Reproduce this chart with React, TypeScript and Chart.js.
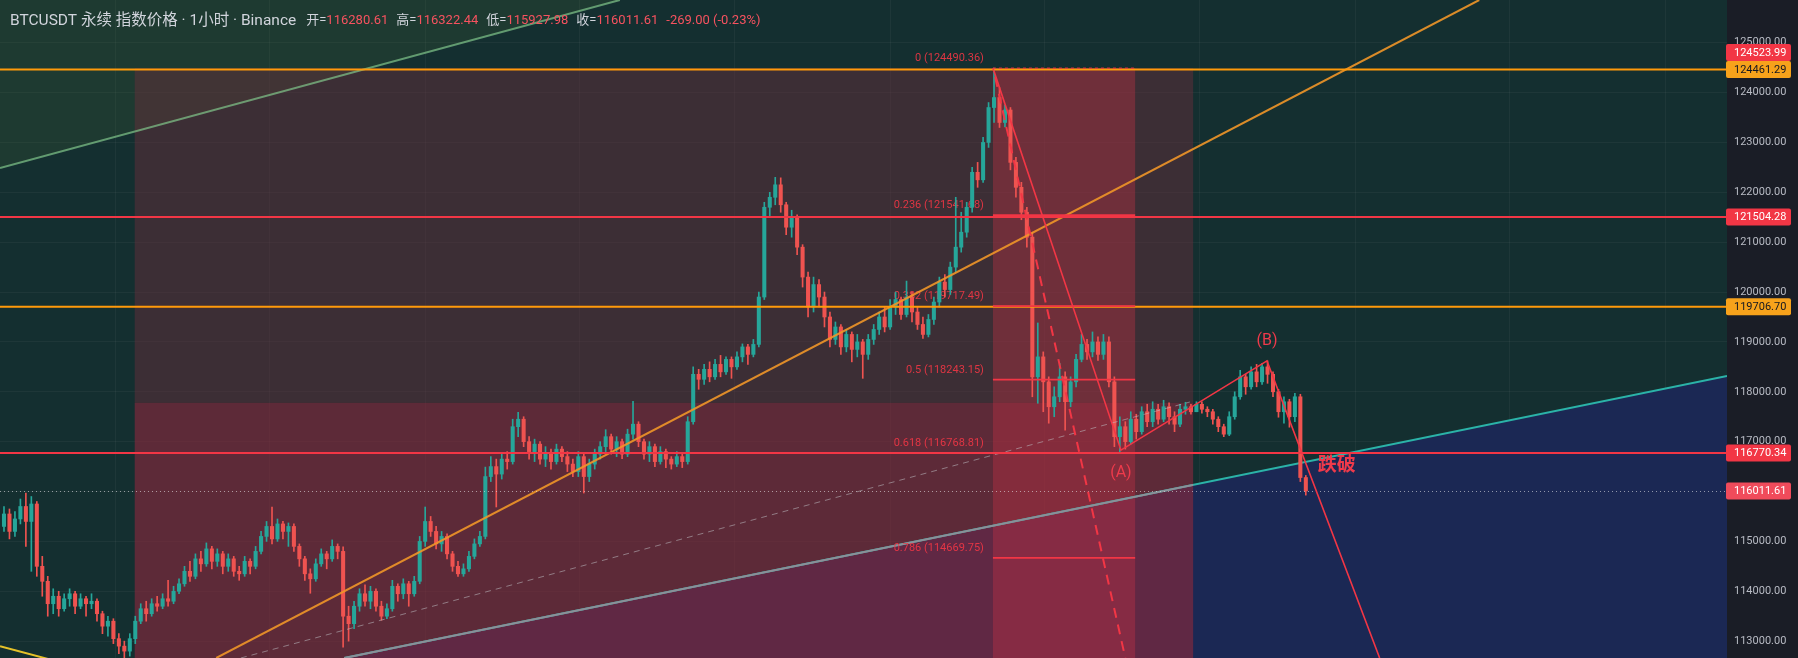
import React, { useEffect, useRef } from 'react';
import { Chart, registerables } from 'chart.js';

Chart.register(...registerables);

// ---------------- data ----------------
const FIRST_OPEN = 115300;
const CLOSE = [
  115550, 115200, 115450, 115700, 115400, 115750, 114500, 114200, 113750, 113900,
  113650, 113850, 113950, 113700, 113850, 113750, 113800, 113550, 113300, 113400,
  113050, 112900, 112800, 113050, 113400, 113650, 113550, 113750, 113700, 113850,
  113800, 114000, 114150, 114400, 114300, 114650, 114550, 114850, 114600, 114750,
  114500, 114650, 114400, 114350, 114600, 114500, 114800, 115100, 115300, 115050,
  115350, 115200, 115300, 114900, 114650, 114350, 114250, 114550, 114750, 114650,
  114900, 114800, 113500, 113350, 113700, 113950, 113800, 114000, 113700, 113500,
  113650, 114100, 113950, 114150, 113950, 114200, 115000, 115400, 115200, 114950,
  115100, 114750, 114500, 114350, 114450, 114700, 114950, 115100, 116300, 116500,
  116350, 116650, 116600, 117300, 117450, 117000, 116800, 116950, 116650, 116750,
  116600, 116850, 116700, 116550, 116400, 116700, 116300, 116550, 116750, 116900,
  117100, 116850, 117000, 116750, 117150, 117350, 117000, 116750, 116900, 116600,
  116800, 116650, 116550, 116700, 116600, 117400, 118350, 118250, 118450, 118300,
  118550, 118400, 118650, 118500, 118700, 118900, 118750, 118950, 119900, 121700,
  121900, 122150, 121750, 121300, 121500, 120900, 120300, 119700, 120150, 119900,
  119500, 119050, 119300, 118900, 119150, 118850, 119000, 118750, 119050, 119250,
  119500, 119300, 119700, 119850, 119550, 119900, 119600, 119350, 119150, 119450,
  119800, 120200, 120050, 120500, 120900, 121200, 121700, 122400, 122250, 123000,
  123700, 123900, 123400, 123650, 122600, 122100, 121600, 121100, 118300, 118700,
  118200, 117700, 117900, 118300, 117800, 118200, 118650, 118950, 118800, 119000,
  118750, 119000, 118200, 117100, 117300, 117000, 117450, 117200, 117600, 117400,
  117650, 117450, 117700, 117500, 117350, 117650, 117700, 117600, 117750, 117650,
  117600, 117450, 117300, 117150, 117500, 117900, 118300, 118100, 118400, 118200,
  118500, 118350, 118000, 117600, 117800, 117500, 117900, 116280.61, 116011.61,
];
const HIGH = [
  115700, 115650, 115600, 115850, 115970, 115900, 115800, 114700, 114300, 114050,
  114000, 113950, 114050, 114000, 113950, 113900, 113950, 113850, 113600, 113500,
  113450, 113150, 113000, 113150, 113500, 113750, 113800, 113850, 113900, 113950,
  114220, 114100, 114250, 114500, 114600, 114750, 114800, 114970, 114900, 114850,
  114800, 114750, 114700, 114500, 114700, 114650, 114900, 115200, 115400, 115690,
  115450, 115400, 115370, 115350, 114950, 114700, 114450, 114650, 114850, 114800,
  115030, 114950, 114890, 113700, 113800, 114050, 114130, 114100, 114050, 113800,
  113750, 114220, 114150, 114250, 114200, 114300, 115100, 115690, 115500, 115300,
  115200, 115150, 114800, 114600, 114550, 114800, 115050, 115200, 116490, 116700,
  116650, 116750, 116800, 117450, 117590, 117500, 117100, 117050, 117000, 116900,
  116850, 116950, 116900, 116800, 116650, 116800, 116750, 116650, 116850, 117000,
  117240, 117150, 117100, 117050, 117250, 117810, 117400, 117050, 117000, 116950,
  116900, 116850, 116700, 116800, 116750, 117500, 118500, 118450, 118550, 118600,
  118650, 118730, 118700, 118700, 118800, 118960, 118950, 119050, 120000, 121800,
  122000, 122300, 122290, 121800, 121640, 121550, 120950, 120400, 120300, 120250,
  120000, 119600, 119400, 119350, 119250, 119200, 119150, 119050, 119150, 119350,
  119600, 119700, 119850, 120000, 119900, 120220, 120000, 119700, 119500, 119550,
  119900, 120300, 120350, 120600, 121900, 121600, 121800, 122500, 122600, 123100,
  123800, 124490, 124100, 123750, 123700, 122700, 122200, 121700, 121200, 119380,
  118800, 118300, 118100, 118570, 118400, 118300, 118750, 119150, 119050, 119200,
  119100, 119150, 119100, 118300, 117500, 117400, 117600, 117550, 117700, 117750,
  117800, 117750, 117830, 117780, 117600, 117750, 117790, 117750, 117800, 117800,
  117700, 117650, 117500, 117350, 117600, 118000, 118430, 118350, 118500, 118550,
  118570, 118620, 118400, 118050, 117900, 117850, 117970, 117950, 116322.44,
];
const LOW = [
  115200, 115050, 115100, 115350, 114900, 114400, 114300, 113900, 113500, 113550,
  113500, 113600, 113700, 113550, 113650, 113500, 113650, 113400, 113150, 113100,
  112950, 112750, 112650, 112700, 112950, 113350, 113400, 113500, 113600, 113650,
  113700, 113750, 113950, 114100, 114200, 114250, 114400, 114500, 114450, 114500,
  114350, 114400, 114300, 114220, 114300, 114350, 114450, 114750, 115000, 114950,
  115000, 115050, 114900, 114800, 114500, 114220, 113960, 114200, 114500, 114450,
  114600, 114650, 112880, 113000, 113250, 113600, 113700, 113650, 113600, 113420,
  113450, 113600, 113800, 113850, 113700, 113900, 114150, 114900, 115100, 114850,
  114800, 114650, 114400, 114300, 114300, 114400, 114650, 114900, 115050, 116200,
  115690, 116250, 116450, 116550, 117100, 116900, 116650, 116600, 116550, 116500,
  116450, 116550, 116600, 116400, 116300, 116300, 115970, 116200, 116450, 116650,
  116800, 116750, 116700, 116660, 116700, 117050, 116900, 116650, 116600, 116500,
  116550, 116480, 116450, 116500, 116480, 116550, 117350, 118050, 118150, 118200,
  118250, 118300, 118350, 118270, 118450, 118600, 118550, 118700, 118900, 119850,
  121500, 121750, 121600, 121150, 121100, 120750, 120100, 119500, 119600, 119700,
  119300, 118900, 118950, 118750, 118800, 118600, 118700, 118270, 118650, 118950,
  119150, 119200, 119250, 119550, 119450, 119500, 119400, 119250, 119070, 119100,
  119350, 119700, 119900, 119950, 120400, 120800, 121100, 121600, 122100, 122200,
  122900, 123400, 123300, 123310, 122450, 121900, 121450, 120900, 117900, 117770,
  117600, 117370, 117500, 117800, 117230, 117700, 118100, 118600, 118650, 118700,
  118630, 118650, 118100, 116900, 116790, 116850, 116950, 117050, 117150, 117300,
  117300, 117350, 117400, 117350, 117200, 117300, 117550, 117550, 117600, 117570,
  117500, 117350, 117200, 117100, 117120, 117450, 117850, 117950, 118050, 118100,
  118150, 118170, 117900, 117490, 117370, 117290, 117400, 116200, 115927.98,
];

// axis values
const Y_RANGE = [112662, 125856];
const X_RANGE = [-0.73, 315];
const PRICE_TICKS = [125000, 124000, 123000, 122000, 121000, 120000, 119000, 118000, 117000, 116000, 115000, 114000, 113000];
const X_GRID_TICKS = [20.3, 48.6, 77.0, 105.3, 133.6, 162.0, 190.3, 218.6, 247.0, 275.3, 303.7];

// horizontal levels
const ORANGE_LEVELS = [124461.29, 119706.70];
const RED_LEVELS = [121504.28, 116770.34];
const LAST_PRICE = 116011.61;
const AXIS_LABEL_PRICES = [124523.99, 124461.29, 121504.28, 119706.70, 116770.34, 116011.61];
const AXIS_LABEL_KIND = ['red', 'orange', 'red', 'orange', 'red', 'last'];

// fibonacci retracement
const FIB_LEVELS = ['0', '0.236', '0.382', '0.5', '0.618', '0.786'];
const FIB_PRICES = [124490.36, 121541.68, 119717.49, 118243.15, 116768.81, 114669.75];
const FIB_SPAN = [180.8, 206.8];
const FIB_BOTTOM = 111995.94;

// zone (candle index span, prices top / split / bottom)
const ZONE_SPAN = [23.9, 217.4];
const ZONE_PRICES = [124490.36, 117780, 111995.94];

// trend lines: [candle index, price]
const GREEN_LINE = [[-0.73, 122487], [112.6, 125856]];
const YELLOW_LINE = [[-0.73, 112900], [8.8, 112620]];
const ORANGE_TREND = [[38.8, 112662], [269.7, 125856]];
const GRAY_DASHED = [[43.3, 112662], [216.8, 117795]];
const CHANNEL_LINE = [[62.2, 112662], [315, 118317]];
const WAVE = [[180.8, 124490], [204.2, 116830], [230.9, 118620], [251.5, 112662]];
const RED_DASHED = [[181.2, 124310], [205.0, 112662]];
const WAVE_LABELS = ['(A)', '(B)'];
const BREAK_TEXT = '跌破';
const BREAK_ANCHOR = [240.2, 116510];

// header
const TITLE = 'BTCUSDT 永续 指数价格 · 1小时 · Binance';
const OHLC_NAMES = ['开', '高', '低', '收'];
const OHLC_VALUES = ['116280.61', '116322.44', '115927.98', '116011.61'];
const CHANGE = '-269.00 (-0.23%)';

// ---------------- styles ----------------
const BG = '#142f30';
const AXIS_BG = '#1a1d26';
const UP = '#26a69a';
const DOWN = '#ef5350';
const RED = '#f23645';
const ORANGE = '#ff9a0a';
const FONT = 'Roboto, "Noto Sans CJK SC", sans-serif';

function App() {
  const ref = useRef<HTMLCanvasElement | null>(null);

  useEffect(() => {
    document.body.style.margin = '0';
    const canvas = ref.current;
    if (!canvas) return;

    const opens = CLOSE.map((c, i) => (i === 0 ? FIRST_OPEN : CLOSE[i - 1]));
    const colors = CLOSE.map((c, i) => (c >= opens[i] ? UP : DOWN));

    const plugin = {
      id: 'tvDrawings',
      beforeDraw(chart: any) {
        const { ctx, chartArea: a, width, height } = chart;
        ctx.save();
        ctx.fillStyle = BG;
        ctx.fillRect(a.left, a.top, a.right - a.left, a.bottom - a.top);
        ctx.fillStyle = AXIS_BG;
        ctx.fillRect(a.right, 0, width - a.right, height);
        ctx.restore();
      },
      beforeDatasetsDraw(chart: any) {
        const { ctx, chartArea: a } = chart;
        const X = (v: number) => chart.scales.x.getPixelForValue(v);
        const Y = (v: number) => chart.scales.y.getPixelForValue(v);
        ctx.save();
        ctx.beginPath();
        ctx.rect(a.left, a.top, a.right - a.left, a.bottom - a.top);
        ctx.clip();

        // faint green tint above green line
        ctx.fillStyle = 'rgba(70,105,55,0.2)';
        ctx.beginPath();
        ctx.moveTo(X(GREEN_LINE[0][0]), Y(GREEN_LINE[0][1]));
        ctx.lineTo(X(GREEN_LINE[1][0]), Y(GREEN_LINE[1][1]));
        ctx.lineTo(a.left, a.top);
        ctx.closePath();
        ctx.fill();

        // navy zone below channel line
        ctx.fillStyle = '#1b2854';
        ctx.beginPath();
        ctx.moveTo(X(CHANNEL_LINE[0][0]), Y(CHANNEL_LINE[0][1]));
        ctx.lineTo(X(CHANNEL_LINE[1][0]), Y(CHANNEL_LINE[1][1]));
        ctx.lineTo(a.right + 5, a.bottom + 5);
        ctx.lineTo(X(CHANNEL_LINE[0][0]), a.bottom + 5);
        ctx.closePath();
        ctx.fill();

        // zone rectangles
        const zx1 = X(ZONE_SPAN[0]);
        const zx2 = X(ZONE_SPAN[1]);
        ctx.fillStyle = 'rgba(100,45,58,0.5)';
        ctx.fillRect(zx1, Y(ZONE_PRICES[0]), zx2 - zx1, Y(ZONE_PRICES[1]) - Y(ZONE_PRICES[0]));
        ctx.fillStyle = 'rgba(130,40,60,0.667)';
        ctx.fillRect(zx1, Y(ZONE_PRICES[1]), zx2 - zx1, Y(ZONE_PRICES[2]) - Y(ZONE_PRICES[1]));

        // fib area
        const fx1 = X(FIB_SPAN[0]);
        const fx2 = X(FIB_SPAN[1]);
        ctx.fillStyle = 'rgba(205,50,70,0.35)';
        ctx.fillRect(fx1, Y(FIB_PRICES[0]), fx2 - fx1, Y(FIB_BOTTOM) - Y(FIB_PRICES[0]));

        // channel line (teal, gray inside zone)
        ctx.lineWidth = 2;
        ctx.strokeStyle = '#2bb3a8';
        ctx.beginPath();
        ctx.moveTo(X(CHANNEL_LINE[0][0]), Y(CHANNEL_LINE[0][1]));
        ctx.lineTo(X(CHANNEL_LINE[1][0]), Y(CHANNEL_LINE[1][1]));
        ctx.stroke();
        ctx.save();
        ctx.beginPath();
        ctx.rect(zx1, a.top, zx2 - zx1, a.bottom - a.top);
        ctx.clip();
        ctx.strokeStyle = '#8c8f98';
        ctx.beginPath();
        ctx.moveTo(X(CHANNEL_LINE[0][0]), Y(CHANNEL_LINE[0][1]));
        ctx.lineTo(X(CHANNEL_LINE[1][0]), Y(CHANNEL_LINE[1][1]));
        ctx.stroke();
        ctx.restore();

        // fib labels
        ctx.font = '11px ' + FONT;
        ctx.fillStyle = 'rgba(242,54,69,0.9)';
        ctx.textAlign = 'right';
        ctx.textBaseline = 'bottom';
        FIB_LEVELS.forEach((lv, k) => {
          ctx.fillText(lv + ' (' + FIB_PRICES[k].toFixed(2) + ')', fx1 - 9, Y(FIB_PRICES[k]) - 4);
        });
        ctx.restore();
      },
      afterDatasetsDraw(chart: any) {
        const { ctx, chartArea: a } = chart;
        const X = (v: number) => chart.scales.x.getPixelForValue(v);
        const Y = (v: number) => chart.scales.y.getPixelForValue(v);
        const seg = (p: number[], q: number[]) => {
          ctx.beginPath();
          ctx.moveTo(X(p[0]), Y(p[1]));
          ctx.lineTo(X(q[0]), Y(q[1]));
          ctx.stroke();
        };
        ctx.save();
        ctx.beginPath();
        ctx.rect(a.left, a.top, a.right - a.left, a.bottom - a.top);
        ctx.clip();
        ctx.lineCap = 'butt';

        // green line
        ctx.lineWidth = 2;
        ctx.strokeStyle = 'rgba(130,200,140,0.7)';
        seg(GREEN_LINE[0], GREEN_LINE[1]);
        // yellow line
        ctx.strokeStyle = '#e6c229';
        seg(YELLOW_LINE[0], YELLOW_LINE[1]);
        // orange trend line
        ctx.strokeStyle = 'rgba(240,150,40,0.9)';
        seg(ORANGE_TREND[0], ORANGE_TREND[1]);
        // gray dashed
        ctx.lineWidth = 1;
        ctx.setLineDash([6, 5]);
        ctx.strokeStyle = 'rgba(190,190,195,0.55)';
        seg(GRAY_DASHED[0], GRAY_DASHED[1]);
        ctx.setLineDash([]);

        // horizontal levels
        ctx.lineWidth = 2;
        ctx.strokeStyle = ORANGE;
        ORANGE_LEVELS.forEach((p) => {
          ctx.beginPath();
          ctx.moveTo(a.left, Y(p));
          ctx.lineTo(a.right, Y(p));
          ctx.stroke();
        });
        ctx.strokeStyle = RED;
        RED_LEVELS.forEach((p) => {
          ctx.beginPath();
          ctx.moveTo(a.left, Y(p));
          ctx.lineTo(a.right, Y(p));
          ctx.stroke();
        });
        // last price dotted
        ctx.lineWidth = 1;
        ctx.setLineDash([1, 3]);
        ctx.strokeStyle = 'rgba(225,225,230,0.6)';
        ctx.beginPath();
        ctx.moveTo(a.left, Math.round(Y(LAST_PRICE)) + 0.5);
        ctx.lineTo(a.right, Math.round(Y(LAST_PRICE)) + 0.5);
        ctx.stroke();
        ctx.setLineDash([]);

        // fib level lines
        const fx1 = X(FIB_SPAN[0]);
        const fx2 = X(FIB_SPAN[1]);
        ctx.strokeStyle = RED;
        FIB_PRICES.forEach((p, k) => {
          ctx.lineWidth = k === 0 ? 1 : 1.6;
          ctx.setLineDash(k === 0 ? [3, 3] : []);
          ctx.beginPath();
          ctx.moveTo(fx1, Y(p));
          ctx.lineTo(fx2, Y(p));
          ctx.stroke();
        });
        ctx.setLineDash([]);

        // red dashed
        ctx.lineWidth = 2;
        ctx.setLineDash([10, 7]);
        ctx.strokeStyle = RED;
        seg(RED_DASHED[0], RED_DASHED[1]);
        ctx.setLineDash([]);

        // wave zigzag
        ctx.lineWidth = 1.6;
        ctx.strokeStyle = RED;
        ctx.beginPath();
        WAVE.forEach((p, k) => {
          if (k === 0) ctx.moveTo(X(p[0]), Y(p[1]));
          else ctx.lineTo(X(p[0]), Y(p[1]));
        });
        ctx.stroke();

        // wave labels
        ctx.fillStyle = '#ef3a4b';
        ctx.font = '16px ' + FONT;
        ctx.textAlign = 'center';
        ctx.textBaseline = 'middle';
        ctx.fillText(WAVE_LABELS[0], X(WAVE[1][0]), Y(WAVE[1][1]) + 23);
        ctx.fillText(WAVE_LABELS[1], X(WAVE[2][0]), Y(WAVE[2][1]) - 20);
        ctx.font = 'bold 19px ' + FONT;
        ctx.textAlign = 'left';
        ctx.fillText(BREAK_TEXT, X(BREAK_ANCHOR[0]), Y(BREAK_ANCHOR[1]));
        ctx.restore();
      },
      afterDraw(chart: any) {
        const { ctx, chartArea: a } = chart;
        const Y = (v: number) => chart.scales.y.getPixelForValue(v);
        ctx.save();
        // axis label boxes
        const h = 17;
        const items = AXIS_LABEL_PRICES.map((p, k) => ({ p, kind: AXIS_LABEL_KIND[k], y: Y(p), yc: 0 }));
        items.sort((u, v) => v.y - u.y);
        let prevTop = Infinity;
        items.forEach((it) => {
          let yc = it.y;
          if (yc + h / 2 > prevTop) yc = prevTop - h / 2;
          prevTop = yc - h / 2;
          it.yc = yc;
        });
        ctx.font = '11px ' + FONT;
        ctx.textBaseline = 'middle';
        ctx.textAlign = 'left';
        items.forEach((it) => {
          const bg = it.kind === 'orange' ? '#f7a21b' : it.kind === 'last' ? '#f04b5b' : RED;
          ctx.fillStyle = bg;
          ctx.beginPath();
          ctx.roundRect(a.right - 1, it.yc - h / 2, 65, h, 2);
          ctx.fill();
          ctx.fillStyle = it.kind === 'orange' ? '#131722' : '#ffffff';
          ctx.fillText(it.p.toFixed(2), a.right + 7, it.yc + 0.5);
        });

        // header
        ctx.textBaseline = 'middle';
        ctx.textAlign = 'left';
        const yH = 21;
        let x = 10;
        const gap = 8;
        ctx.font = '15.5px ' + FONT;
        ctx.fillStyle = '#d1d4dc';
        ctx.fillText(TITLE, x, yH);
        x += ctx.measureText(TITLE).width + gap + 2;
        ctx.font = '13px ' + FONT;
        OHLC_NAMES.forEach((n, k) => {
          const lab = n + '=';
          ctx.fillStyle = '#d1d4dc';
          ctx.fillText(lab, x, yH);
          x += ctx.measureText(lab).width;
          ctx.fillStyle = '#f7525f';
          ctx.fillText(OHLC_VALUES[k], x, yH);
          x += ctx.measureText(OHLC_VALUES[k]).width + gap;
        });
        ctx.fillStyle = '#f7525f';
        ctx.fillText(CHANGE, x, yH);
        ctx.restore();
      },
    };

    const chart = new Chart(canvas, {
      type: 'bar',
      data: {
        datasets: [
          {
            label: 'wick',
            data: CLOSE.map((c, i) => ({ x: i, y: [Math.min(LOW[i], opens[i], c), Math.max(HIGH[i], opens[i], c)] })) as any,
            backgroundColor: colors,
            barThickness: 1,
            grouped: false,
            order: 2,
          } as any,
          {
            label: 'body',
            data: CLOSE.map((c, i) => ({ x: i, y: [opens[i], c] })) as any,
            backgroundColor: colors,
            barThickness: 3.4,
            minBarLength: 1,
            grouped: false,
            order: 1,
          } as any,
        ],
      },
      options: {
        animation: false,
        responsive: true,
        maintainAspectRatio: false,
        events: [],
        layout: { padding: 0 },
        plugins: { legend: { display: false }, tooltip: { enabled: false } },
        scales: {
          x: {
            type: 'linear',
            min: X_RANGE[0],
            max: X_RANGE[1],
            offset: false,
            grid: { color: 'rgba(255,255,255,0.045)', drawTicks: false, offset: false },
            border: { display: false },
            ticks: { display: false },
            afterBuildTicks: (s: any) => {
              s.ticks = X_GRID_TICKS.map((v) => ({ value: v }));
            },
            afterFit: (s: any) => {
              s.height = 0;
              s.paddingLeft = 0;
              s.paddingRight = 0;
            },
          },
          y: {
            type: 'linear',
            position: 'right',
            min: Y_RANGE[0],
            max: Y_RANGE[1],
            grid: { color: 'rgba(255,255,255,0.045)', drawTicks: false },
            border: { display: false },
            ticks: {
              color: '#b8bbc4',
              font: { size: 11, family: FONT },
              padding: 7,
              callback: (v: any) => Number(v).toFixed(2),
            },
            afterBuildTicks: (s: any) => {
              s.ticks = PRICE_TICKS.map((v) => ({ value: v }));
            },
            afterFit: (s: any) => {
              s.width = 71;
              s.paddingTop = 0;
              s.paddingBottom = 0;
            },
          },
        },
      } as any,
      plugins: [plugin as any],
    });

    return () => chart.destroy();
  }, []);

  return (
    <div style={{ position: 'fixed', left: 0, top: 0, width: 1798, height: 658 }}>
      <canvas ref={ref} />
    </div>
  );
}

export default App;
